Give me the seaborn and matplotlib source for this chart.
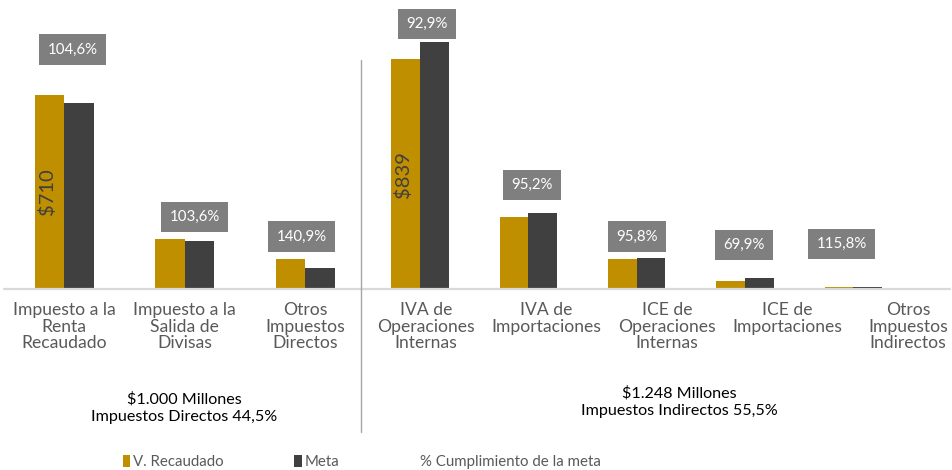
import matplotlib
matplotlib.use("Agg")
import matplotlib.pyplot as plt
import seaborn as sns
import pandas as pd
from matplotlib.lines import Line2D
from matplotlib.patches import Patch

# ---- data ----
cats_directos = ["Impuesto a la\nRenta\nRecaudado", "Impuesto a la\nSalida de\nDivisas",
                 "Otros\nImpuestos\nDirectos"]
cats_indirectos = ["IVA de\nOperaciones\nInternas", "IVA de\nImportaciones",
                   "ICE de\nOperaciones\nInternas", "ICE de\nImportaciones",
                   "Otros\nImpuestos\nIndirectos"]
recaudado_directos = [710, 182, 108]
meta_directos = [679, 176, 77]
recaudado_indirectos = [839, 264, 110, 28, 7]
meta_indirectos = [903, 277, 115, 40, 6]
cumplimiento_directos = ["104,6%", "103,6%", "140,9%"]
cumplimiento_indirectos = ["92,9%", "95,2%", "95,8%", "69,9%", "115,8%"]
series = ["V. Recaudado", "Meta"]
total_directos = "$1.000 Millones\nImpuestos Directos 44,5%"
total_indirectos = "$1.248 Millones\nImpuestos Indirectos 55,5%"
legend_extra = "% Cumplimiento de la meta"

# ---- style ----
GOLD = "#BF8F00"
DARK = "#404040"
BOX = "#7F7F7F"
TXT = "#595959"
FONT = ["Lato", "DejaVu Sans"]

sns.set_theme(style="white")
plt.rcParams["font.family"] = FONT

W, H = 952, 470
fig = plt.figure(figsize=(W / 100, H / 100), dpi=100)

base_px = 289
ymax = 950
px_per_unit = 1 / 3.655
ax_h_px = ymax * px_per_unit

def fx(px):
    return px / W

def fy(py):
    return 1 - py / H

axL = fig.add_axes([fx(4), fy(base_px), fx(365.75 - 4), ax_h_px / H])
axR = fig.add_axes([fx(365.75), fy(base_px), fx(908 - 365.75), ax_h_px / H])

def long_df(cats, rec, met):
    rows = []
    for c, r, m in zip(cats, rec, met):
        rows.append({"cat": c, "serie": series[0], "val": r})
        rows.append({"cat": c, "serie": series[1], "val": m})
    return pd.DataFrame(rows)

dfL = long_df(cats_directos, recaudado_directos, meta_directos)
dfR = long_df(cats_indirectos, recaudado_indirectos, meta_indirectos)
pal = {series[0]: GOLD, series[1]: DARK}

sns.barplot(data=dfL, x="cat", y="val", hue="serie", palette=pal, saturation=1,
            errorbar=None, width=0.49, ax=axL, legend=False, linewidth=0)
sns.barplot(data=dfR, x="cat", y="val", hue="serie", palette=pal, saturation=1,
            errorbar=None, width=0.53, ax=axR, legend=False, linewidth=0)

for ax, n in ((axL, 3), (axR, 5)):
    ax.set_ylim(0, ymax)
    ax.set_xlim(-0.5, n - 0.5)
    ax.set_xlabel("")
    ax.set_ylabel("")
    ax.set_yticks([])
    for s in ax.spines.values():
        s.set_visible(False)
    ax.patch.set_alpha(0)
    ax.tick_params(axis="x", length=0, pad=9.5, labelsize=12.6, labelcolor=TXT)

axL.set_xticks(range(3))
axL.set_xticklabels(cats_directos, linespacing=1.05)
# category labels follow a uniform 8-slot layout across the chart
slot = (365.75 - 4) / 3
tick_px = [4 + slot * (k + 0.5) for k in range(3, 8)]
tick_pos = [(p - 365.75) / ((908 - 365.75) / 5) - 0.5 for p in tick_px]
axR.set_xticks(tick_pos)
axR.set_xticklabels(cats_indirectos, linespacing=1.05)

# baseline and separator
fig.add_artist(Line2D([fx(4), fx(950)], [fy(base_px), fy(base_px)], color="#D9D9D9", lw=1.6))
fig.add_artist(Line2D([fx(361), fx(361)], [fy(60), fy(432)], color="#A6A6A6", lw=1.0))

# percentage boxes
gap_px = [45, 22, 23, 18, 28, 21, 33, 43]
dx_px = [8, 10, -4, 7, 4, 0, -1, -12]
items = [(axL, i, recaudado_directos[i], meta_directos[i], cumplimiento_directos[i]) for i in range(3)] + \
        [(axR, i, recaudado_indirectos[i], meta_indirectos[i], cumplimiento_indirectos[i]) for i in range(5)]
for k, (ax, i, r, m, lab) in enumerate(items):
    ax.annotate(lab, xy=(i, max(r, m)), xytext=(dx_px[k] * 0.72, gap_px[k] * 0.72),
                textcoords="offset points", ha="center", va="center", fontsize=10.8,
                color="white", annotation_clip=False,
                bbox=dict(boxstyle="square,pad=0.55", fc=BOX, ec="none"))

# rotated value labels inside the biggest bars
for ax, v in ((axL, recaudado_directos[0]), (axR, recaudado_indirectos[0])):
    bar = ax.patches[0]
    ax.text(bar.get_x() + bar.get_width() / 2 - 0.02, v / 2, f"${v}", rotation=90,
            ha="center", va="center", fontsize=14.5, color=DARK)

# group totals
fig.text(fx(184), fy(408), total_directos, ha="center", va="center", fontsize=11.6,
         color="black", linespacing=1.35)
fig.text(fx(679), fy(402), total_indirectos, ha="center", va="center", fontsize=11.6,
         color="black", linespacing=1.35)

# legend
handles = [Patch(fc=GOLD, ec="none"), Patch(fc=DARK, ec="none"),
           Line2D([], [], linestyle="none")]
leg = fig.legend(handles, series + [legend_extra], loc="center", ncol=3,
                 bbox_to_anchor=(fx(362), fy(462)), frameon=False, fontsize=10.8,
                 handlelength=0.5, handleheight=0.8, handletextpad=0.2,
                 columnspacing=4.7, labelcolor=TXT)

fig.savefig("out.png", dpi=100)
